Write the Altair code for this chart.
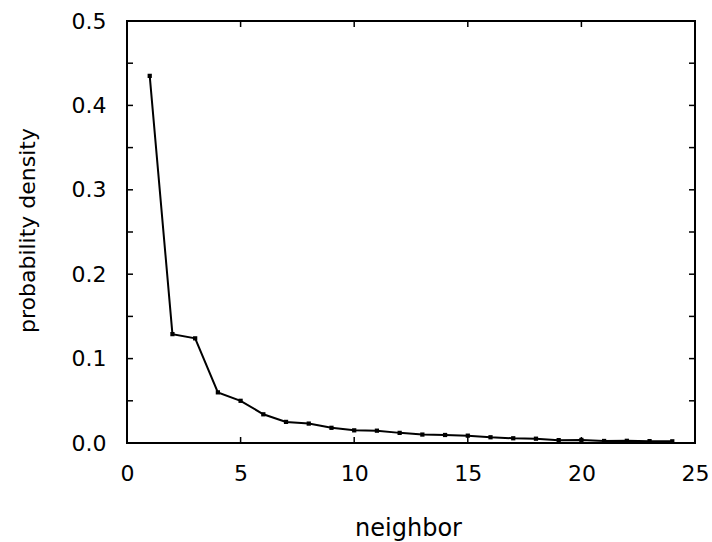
import altair as alt
import pandas as pd

# Probability density of the k-th nearest neighbor
neighbor = list(range(1, 25))
density = [0.435, 0.129, 0.124, 0.060, 0.050, 0.034, 0.025, 0.023,
           0.018, 0.015, 0.0146, 0.012, 0.010, 0.0095, 0.0087, 0.0068,
           0.0056, 0.0051, 0.0034, 0.0036, 0.0024, 0.0026, 0.0022, 0.0020]

x_labels = [0, 5, 10, 15, 20, 25]
y_labels = [0.0, 0.1, 0.2, 0.3, 0.4, 0.5]
x_minor = [5, 10, 15, 20]
y_minor = [0.05, 0.10, 0.15, 0.20, 0.25, 0.30, 0.35, 0.40, 0.45]

W, H = 568, 422
TICK = 6
FONT = "DejaVu Sans"

df = pd.DataFrame({"neighbor": neighbor, "density": density})
xt = pd.DataFrame({"neighbor": x_minor})
yt = pd.DataFrame({"density": y_minor})

xscale = alt.Scale(domain=[0, 25], nice=False, zero=False)
yscale = alt.Scale(domain=[0, 0.5], nice=False)

x_enc = alt.X("neighbor:Q", scale=xscale, axis=alt.Axis(
    title="neighbor", values=x_labels, format="d",
    domain=False, ticks=False, grid=False,
    labelFont=FONT, labelFontSize=22, labelColor="black", labelPadding=20,
    labelFlush=False,
    titleFont=FONT, titleFontSize=24, titleFontWeight="normal", titleColor="black",
    titleX=281, titleY=92, titleBaseline="alphabetic", titleAlign="center",
))
y_enc = alt.Y("density:Q", scale=yscale, axis=alt.Axis(
    title="probability density", values=y_labels, format=".1f",
    domain=False, ticks=False, grid=False,
    labelFont=FONT, labelFontSize=22, labelColor="black", labelPadding=21,
    labelFlush=False,
    titleFont=FONT, titleFontSize=22, titleFontWeight="normal", titleColor="black",
    titleAngle=-90, titleX=-100, titleY=209, titleBaseline="middle", titleAlign="center",
))

line = alt.Chart(df).mark_line(
    color="black", strokeWidth=2,
    point=alt.OverlayMarkDef(shape="square", size=18, filled=True, color="black"),
).encode(x=x_enc, y=y_enc)

# inward tick marks on all four sides of the frame
left_ticks = alt.Chart(yt).mark_rule(color="black", strokeWidth=1.5).encode(
    y=y_enc, x=alt.value(0), x2=alt.value(TICK))
right_ticks = alt.Chart(yt).mark_rule(color="black", strokeWidth=1.5).encode(
    y=y_enc, x=alt.value(W - TICK), x2=alt.value(W))
bottom_ticks = alt.Chart(xt).mark_rule(color="black", strokeWidth=1.5).encode(
    x=x_enc, y=alt.value(H - TICK), y2=alt.value(H))
top_ticks = alt.Chart(xt).mark_rule(color="black", strokeWidth=1.5).encode(
    x=x_enc, y=alt.value(0), y2=alt.value(TICK))

chart = alt.layer(
    line, left_ticks, right_ticks, bottom_ticks, top_ticks
).properties(
    width=W, height=H,
    padding={"left": 127, "top": 21, "right": 17, "bottom": 99},
    autosize=alt.AutoSizeParams(type="none"),
    background="white",
).configure_view(
    stroke="black", strokeWidth=2,
)

chart.save("out.html", embed_options={"renderer": "svg", "actions": False})
